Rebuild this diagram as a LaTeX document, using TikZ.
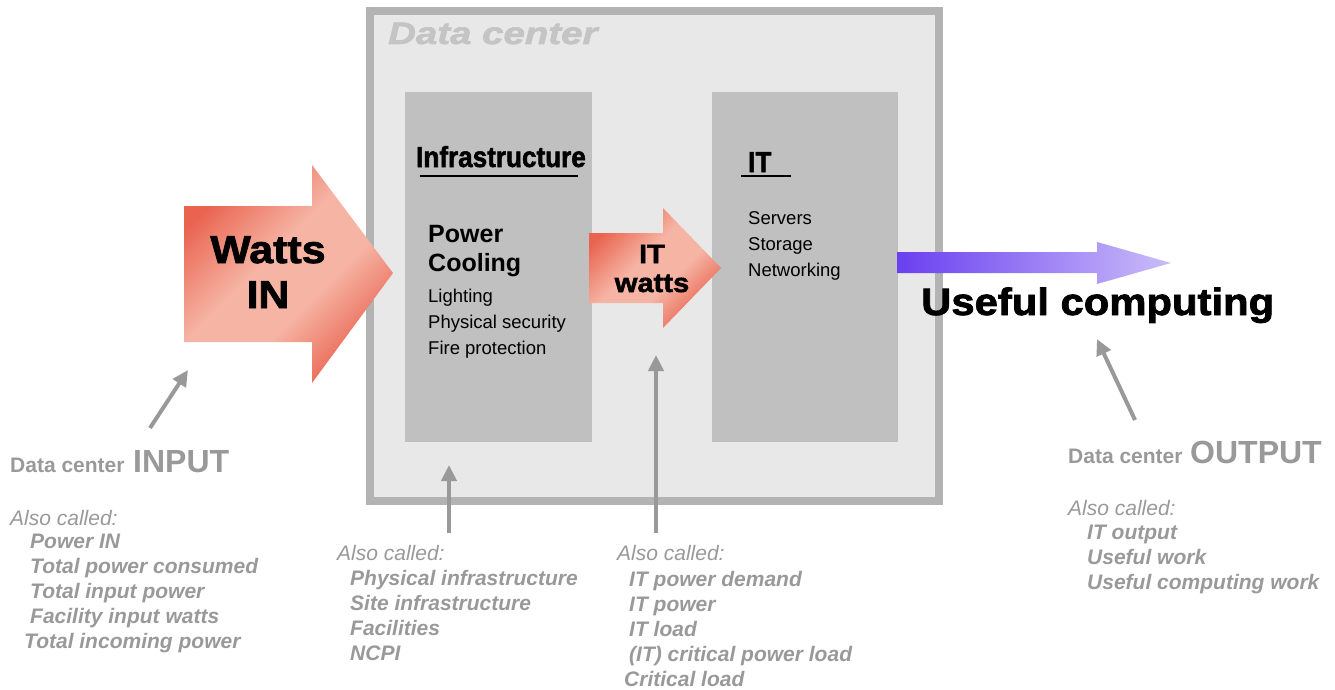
\documentclass[tikz,border=0pt]{standalone}
\usepackage{fontspec}
\setmainfont{Liberation Sans}
\newfontfamily\heavyfont[FakeBold=2,FakeStretch=1.1]{Liberation Sans Bold}
\newfontfamily\heavyital[FakeBold=2,FakeStretch=1.24]{Liberation Sans Bold Italic}
\newfontfamily\impactfont[FakeBold=1.8,FakeStretch=0.9]{Liberation Sans Bold}
\usepackage{xcolor}
\usepackage{tikz}
\usetikzlibrary{arrows.meta}

\definecolor{dcfill}{HTML}{E8E8E8}
\definecolor{dcline}{HTML}{B3B3B3}
\definecolor{panelgray}{HTML}{C0C0C0}
\definecolor{labelgray}{HTML}{999999}
\definecolor{dctitle}{HTML}{C4C4C4}
\definecolor{salmondark}{HTML}{E9634F}
\definecolor{salmonlight}{HTML}{F6B4A4}
\definecolor{violetdark}{HTML}{6A3FF0}
\definecolor{violetlight}{HTML}{CBBDF9}

\pgfdeclarehorizontalshading{salmonfade}{100bp}{color(0bp)=(salmondark); color(25bp)=(salmondark); color(44bp)=(salmonlight); color(58bp)=(salmonlight); color(75bp)=(salmondark); color(100bp)=(salmondark)}

\begin{document}
\begin{tikzpicture}[x=1pt,y=-1pt,
    dcbox/.style={draw=dcline,fill=dcfill,line width=8pt,inner sep=0},
    panel/.style={fill=panelgray,inner sep=0},
    bigarrow/.style={shading=salmonfade,shading angle=-45},
    txt/.style={inner sep=0,anchor=base west},
    heavytxt/.style={inner sep=0,anchor=base,font=\heavyfont\fontsize{#1}{#1}\selectfont},
    itemtxt/.style={txt,font=\fontsize{18.5}{22}\selectfont},
    graylbl/.style={txt,text=labelgray,font=\bfseries\fontsize{21}{25}\selectfont},
    graybig/.style={txt,text=labelgray,font=\bfseries\fontsize{32}{36}\selectfont},
    alsocalled/.style={txt,text=labelgray,font=\itshape\fontsize{21}{25}\selectfont},
    alsoitem/.style={txt,text=labelgray,font=\bfseries\itshape\fontsize{21}{25}\selectfont},
    pointer/.style={draw=labelgray,line width=4pt,-{Triangle[length=16pt,width=15pt]}}]

    \useasboundingbox (0,0) rectangle (1335,690);

    % data center and its two blocks
    \node[dcbox,minimum width=569,minimum height=490] (dc) at (654.5,256) {};
    \node[txt,text=dctitle,font=\heavyital\fontsize{31}{31}\selectfont] (dctitle) at (388,44) {Data center};

    \node[panel,minimum width=187,minimum height=350] (infra) at (498.5,267) {};
    \node[panel,minimum width=186,minimum height=350] (it) at (805,267) {};

    \node[inner sep=0,anchor=base,font=\impactfont\fontsize{29}{29}\selectfont] (infratitle) at (501,167) {Infrastructure};
    \draw[line width=2pt] (420,176) -- (578,176);
    \node[txt,font=\impactfont\fontsize{29}{29}\selectfont] (ittitle) at (748,172) {IT};
    \draw[line width=2pt] (741,176) -- (791,176);

    \node[txt,font=\bfseries\fontsize{25}{25}\selectfont] (power) at (428,242) {Power};
    \node[txt,font=\bfseries\fontsize{25}{25}\selectfont] (cooling) at (428,271) {Cooling};
    \node[itemtxt] (lighting) at (428,302) {Lighting};
    \node[itemtxt] (security) at (428,328) {Physical security};
    \node[itemtxt] (fire) at (428,354) {Fire protection};

    \node[itemtxt] (servers) at (748,224) {Servers};
    \node[itemtxt] (storage) at (748,250) {Storage};
    \node[itemtxt] (network) at (748,276) {Networking};

    % power flow arrows
    \path[bigarrow] (184,206) -- (312,206) -- (312,165) -- (393,273) -- (312,383)
        -- (312,342) -- (184,342) -- cycle;
    \node[heavytxt=39] (watts) at (268,263) {Watts};
    \node[heavytxt=39] (wattsin) at (268,308) {IN};

    \path[bigarrow] (589,233) -- (663,233) -- (663,208) -- (721,268) -- (663,328)
        -- (663,303) -- (589,303) -- cycle;
    \node[heavytxt=26.5] (itw) at (652,263) {IT};
    \node[heavytxt=26.5] (itwatts) at (652,292) {watts};

    \path[left color=violetdark,right color=violetlight] (897,252) -- (1097,252) -- (1097,242)
        -- (1171,263) -- (1097,284) -- (1097,273) -- (897,273) -- cycle;
    \node[txt,font=\heavyfont\fontsize{38}{38}\selectfont] (useful) at (921,315) {Useful computing};

    % pointers
    \coordinate (inTail) at (150,428);
    \coordinate (inTip) at (188,370);
    \coordinate (infraTail) at (449,533);
    \coordinate (infraTip) at (449,465);
    \coordinate (itTail) at (656,533);
    \coordinate (itTip) at (656,355);
    \coordinate (outTail) at (1135,420);
    \coordinate (outTip) at (1097,339);
    \draw[pointer] (inTail) -- (inTip);
    \draw[pointer] (infraTail) -- (infraTip);
    \draw[pointer] (itTail) -- (itTip);
    \draw[pointer] (outTail) -- (outTip);

    % input labels
    \node[graylbl] (dcin) at (10,472) {Data center};
    \node[graybig] (input) at (133,472) {INPUT};
    \node[alsocalled] (alsoin) at (10,525) {Also called:};
    \node[alsoitem] (in1) at (30,548) {Power IN};
    \node[alsoitem] (in2) at (30,573) {Total power consumed};
    \node[alsoitem] (in3) at (30,598) {Total input power};
    \node[alsoitem] (in4) at (30,623) {Facility input watts};
    \node[alsoitem] (in5) at (24,648) {Total incoming power};

    % infrastructure labels
    \node[alsocalled] (alsoinfra) at (337,560) {Also called:};
    \node[alsoitem] (inf1) at (350,585) {Physical infrastructure};
    \node[alsoitem] (inf2) at (350,610) {Site infrastructure};
    \node[alsoitem] (inf3) at (350,635) {Facilities};
    \node[alsoitem] (inf4) at (350,660) {NCPI};

    % IT load labels
    \node[alsocalled] (alsoit) at (617,560) {Also called:};
    \node[alsoitem] (it1) at (629,586) {IT power demand};
    \node[alsoitem] (it2) at (629,611) {IT power};
    \node[alsoitem] (it3) at (629,636) {IT load};
    \node[alsoitem] (it4) at (629,661) {(IT) critical power load};
    \node[alsoitem] (it5) at (624,686) {Critical load};

    % output labels
    \node[graylbl] (dcout) at (1068,463) {Data center};
    \node[graybig] (output) at (1190,463) {OUTPUT};
    \node[alsocalled] (alsoout) at (1068,515) {Also called:};
    \node[alsoitem] (out1) at (1087,539) {IT output};
    \node[alsoitem] (out2) at (1087,564) {Useful work};
    \node[alsoitem] (out3) at (1087,589) {Useful computing work};

\end{tikzpicture}
\end{document}
